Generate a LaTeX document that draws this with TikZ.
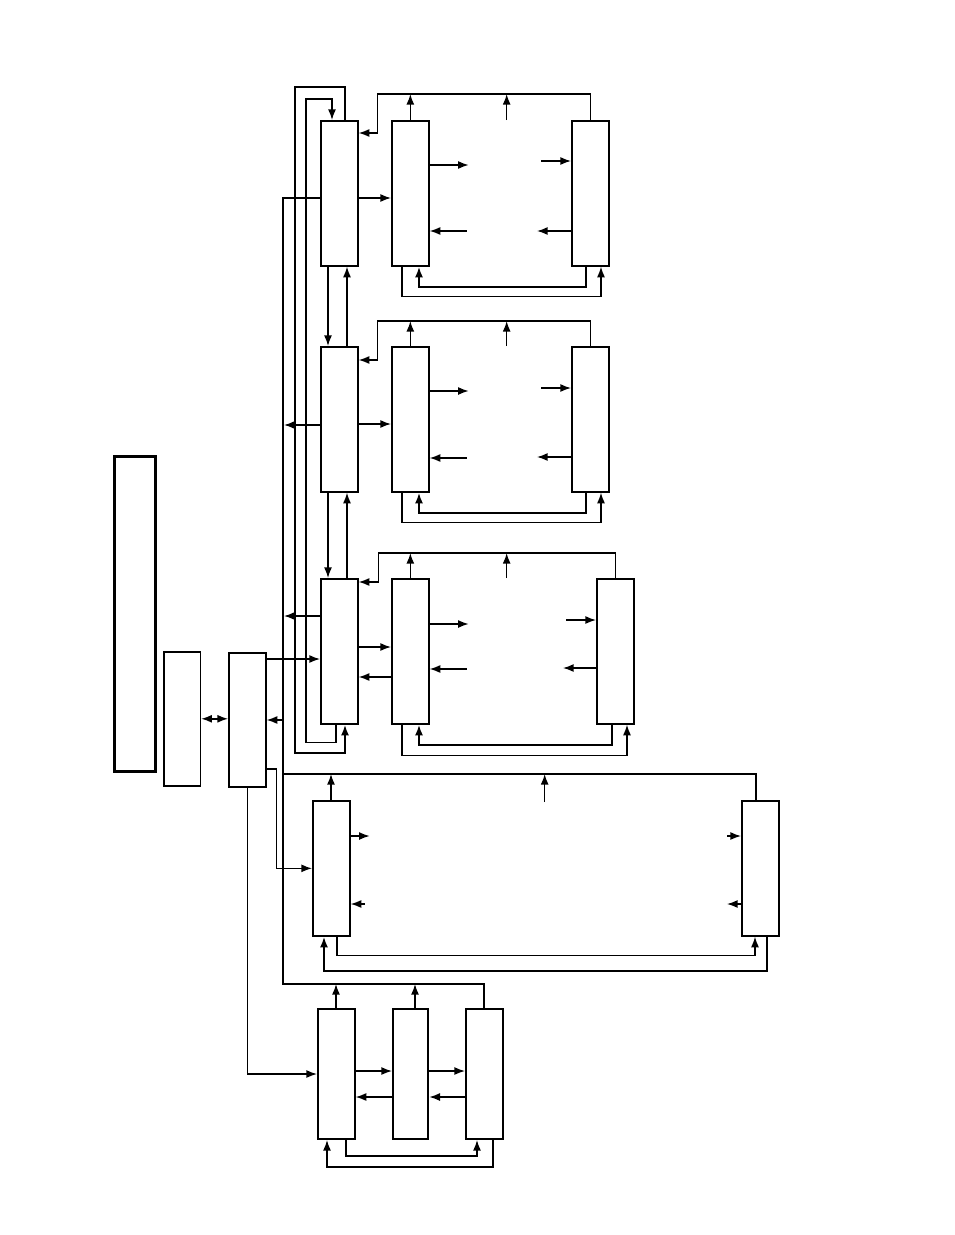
\documentclass[tikz,border=0pt]{standalone}
\usepackage{tikz}
\usetikzlibrary{arrows.meta,calc}

\begin{document}
\begin{tikzpicture}[x=0.75pt,y=-0.75pt,>={Latex[length=8pt,width=6pt]},line width=1.05pt]
\tikzstyle{unit}=[draw,line width=1.5pt,inner sep=0pt,anchor=north west,minimum width=27.5pt]
\tikzstyle{stage}=[unit,minimum height=108.5pt]
\tikzstyle{heavy}=[line width=1.5pt]
\useasboundingbox (0,0) rectangle (954,1235);
% panel and controller
\node[unit,line width=2.6pt,minimum width=30.5pt,minimum height=236pt] (panel) at (113,455) {};
\node[unit,line width=1.2pt,minimum height=100.5pt] (src) at (163,651) {};
\node[unit,minimum height=100.5pt] (ctl) at (228,652) {};
% three processing rows
\node[stage] (L1) at (320,120) {};
\node[stage] (M1) at (391,120) {};
\node[stage] (R1) at (571,120) {};
\node[stage] (L2) at (320,346) {};
\node[stage] (M2) at (391,346) {};
\node[stage] (R2) at (571,346) {};
\node[stage] (L3) at (320,578) {};
\node[stage] (M3) at (391,578) {};
\node[stage] (R3) at (596,578) {};
% wide loop
\node[unit,minimum height=101pt] (P1) at (312,800) {};
\node[unit,minimum height=101pt] (P2) at (741,800) {};
% three-stage chain
\node[unit,minimum height=97.5pt] (Q1) at (317,1008) {};
\node[unit,minimum height=97.5pt,minimum width=26.5pt] (Q2) at (392,1008) {};
\node[unit,minimum height=97.5pt] (Q3) at (465,1008) {};
\coordinate (bus) at (283,984);
\coordinate (pbus) at (283,774);

% row 1
\draw[->] (R1.north) -- ++(0,-26) -| ($(L1.north east)+(19,13)$) -- ++(-19,0);
\draw[->] (M1.north) -- ++(0,-26);
\draw[->] ($(M1.north east)+(77,0)$) -- ++(0,-26);
\draw[->] ($(L1.north east)+(0,78)$) -- ($(M1.north west)+(0,78)$);
\draw[->] ($(M1.north east)+(0,45)$) -- ++(39,0);
\draw[->] ($(R1.north west)+(-30,41)$) -- ++(30,0);
\draw[->] ($(M1.north east)+(37,111)$) -- ++(-37,0);
\draw[->] ($(R1.north west)+(0,111)$) -- ++(-34,0);
\draw[->] ($(M1.south west)+(11,0)$) -- ++(0,30) -| ($(R1.south west)+(30,0)$);
\draw[->,heavy] ($(R1.south west)+(15,0)$) -- ++(0,20) -| ($(M1.south west)+(28,0)$);

% row 2
\draw[->] (R2.north) -- ++(0,-25) -| ($(L2.north east)+(19,14)$) -- ++(-19,0);
\draw[->] (M2.north) -- ++(0,-25);
\draw[->] ($(M2.north east)+(77,0)$) -- ++(0,-25);
\draw[->] ($(L2.north east)+(0,78)$) -- ($(M2.north west)+(0,78)$);
\draw[->] ($(M2.north east)+(0,45)$) -- ++(39,0);
\draw[->] ($(R2.north west)+(-30,42)$) -- ++(30,0);
\draw[->] ($(M2.north east)+(37,112)$) -- ++(-37,0);
\draw[->] ($(R2.north west)+(0,111)$) -- ++(-34,0);
\draw[->] ($(M2.south west)+(11,0)$) -- ++(0,30) -| ($(R2.south west)+(30,0)$);
\draw[->,heavy] ($(R2.south west)+(15,0)$) -- ++(0,20) -| ($(M2.south west)+(28,0)$);

% row 3
\draw[->] (R3.north) -- ++(0,-25) -| ($(L3.north east)+(20,4)$) -- ++(-20,0);
\draw[->] (M3.north) -- ++(0,-25);
\draw[->] ($(M3.north east)+(77,0)$) -- ++(0,-25);
\draw[->] ($(L3.north east)+(0,69)$) -- ($(M3.north west)+(0,69)$);
\draw[->] ($(M3.north west)+(0,99)$) -- ($(L3.north east)+(0,99)$);
\draw[->] ($(M3.north east)+(0,46)$) -- ++(39,0);
\draw[->] ($(R3.north west)+(-30,42)$) -- ++(30,0);
\draw[->] ($(M3.north east)+(37,91)$) -- ++(-37,0);
\draw[->] ($(R3.north west)+(0,90)$) -- ++(-33,0);
\draw[->] ($(M3.south west)+(11,0)$) -- ++(0,31) -| ($(R3.south west)+(31,0)$);
\draw[->,heavy] ($(R3.south west)+(16,0)$) -- ++(0,20) -| ($(M3.south west)+(28,0)$);

% links between the rows
\draw[->] ($(L1.south west)+(8,0)$) -- ($(L2.north west)+(8,0)$);
\draw[->] ($(L2.north west)+(27,0)$) -- ($(L1.south west)+(27,0)$);
\draw[->] ($(L2.south west)+(8,0)$) -- ($(L3.north west)+(8,0)$);
\draw[->] ($(L3.north west)+(27,0)$) -- ($(L2.south west)+(27,0)$);
\draw[->,heavy] ($(L1.north west)+(25,0)$) -- ++(0,-33) -| ($(L3.south west)+(-25,28)$) -| ($(L3.south west)+(25,0)$);
\draw[->] ($(L3.south west)+(16,0)$) -- ++(0,18) -| ($(L1.north west)+(-14,-21)$) -| ($(L1.north west)+(12,0)$);

% trunk and controller
\draw[heavy] ($(L1.north west)+(0,78)$) -| (bus) -| (Q3.north);
\draw[->] ($(L2.north west)+(0,79)$) -- ++(-36,0);
\draw[->] ($(L3.north west)+(0,38)$) -- ++(-36,0);
\draw[->] (bus |- ctl.east) -- (ctl.east);
\draw[<->] (src.east) -- (src.east -| ctl.west);
\draw[->] ($(ctl.north east)+(0,7)$) -- ($(L3.north west)+(0,81)$);
\draw[->] ($(ctl.south east)+(0,-19)$) -- ++(10,0) |- (P1.west);
\draw[->] (ctl.south) |- (Q1.west);

% wide loop
\draw (pbus) -| ($(P2.north west)+(15,0)$);
\draw[->] ($(P1.north west)+(19,0)$) -- ++(0,-26);
\draw[->] ($(P1.north east)+(194,2)$) -- ++(0,-28);
\draw[->] ($(P1.north east)+(0,36)$) -- ++(19,0);
\draw[->] ($(P1.north east)+(14,104)$) -- ++(-14,0);
\draw[->] ($(P2.north west)+(-14,36)$) -- ++(14,0);
\draw[->] ($(P2.north west)+(0,104)$) -- ++(-14,0);
\draw[->] ($(P1.south west)+(25,0)$) -- ++(0,19) -| ($(P2.south west)+(14,0)$);
\draw[->,heavy] ($(P2.south west)+(26,0)$) -- ++(0,34) -| ($(P1.south west)+(12,0)$);

% three-stage chain
\draw[->] ($(Q1.north west)+(19,0)$) -- ++(0,-24);
\draw[->] ($(Q2.north west)+(23,0)$) -- ++(0,-24);
\draw[->] ($(Q1.north east)+(0,63)$) -- ($(Q2.north west)+(0,63)$);
\draw[->] ($(Q2.north west)+(0,89)$) -- ($(Q1.north east)+(0,89)$);
\draw[->] ($(Q2.north east)+(0,63)$) -- ($(Q3.north west)+(0,63)$);
\draw[->] ($(Q3.north west)+(0,89)$) -- ($(Q2.north east)+(0,89)$);
\draw[->] ($(Q1.south west)+(29,0)$) -- ++(0,16) -| ($(Q3.south west)+(12,0)$);
\draw[->] ($(Q3.south west)+(28,0)$) -- ++(0,27) -| ($(Q1.south west)+(10,0)$);
\end{tikzpicture}
\end{document}
